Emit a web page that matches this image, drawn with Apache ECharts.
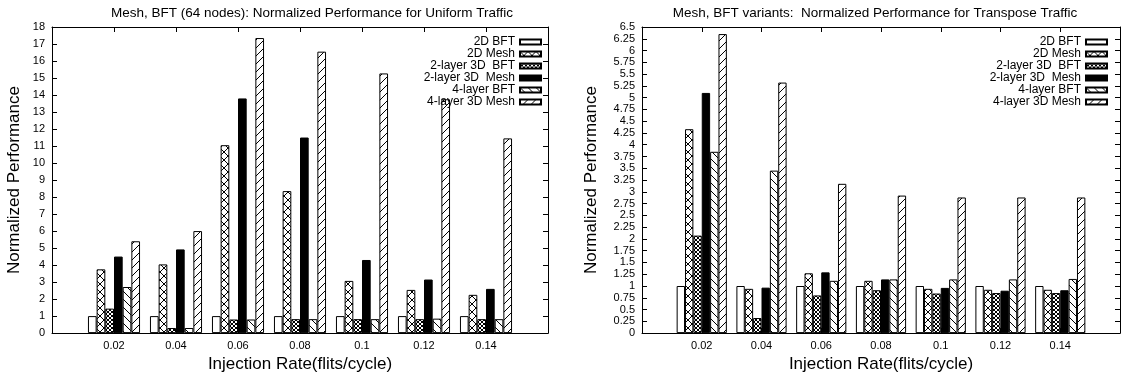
<!DOCTYPE html>
<html>
<head>
<meta charset="utf-8">
<script src="https://cdn.jsdelivr.net/npm/echarts@6/dist/echarts.min.js"></script>
<style>
  html, body { margin: 0; padding: 0; background: #fff; }
  #chart { width: 1123px; height: 378px; }
</style>
</head>
<body>
<div id="chart"></div>
<script>
// x categories (injection rates), placed at 0..6 on a -1..7 axis like gnuplot histograms
var rates = ['0.02', '0.04', '0.06', '0.08', '0.1', '0.12', '0.14'];
var seriesNames = ['2D BFT', '2D Mesh', '2-layer 3D  BFT', '2-layer 3D  Mesh', '4-layer BFT', '4-layer 3D Mesh'];

// uniform traffic (left)
var uni2dBft   = [1, 1, 1, 1, 1, 1, 1];
var uni2dMesh  = [3.75, 4.04, 11.05, 8.35, 3.07, 2.54, 2.25];
var uni2lBft   = [1.44, 0.3, 0.8, 0.82, 0.82, 0.82, 0.82];
var uni2lMesh  = [4.5, 4.92, 13.8, 11.5, 4.3, 3.15, 2.6];
var uni4lBft   = [2.71, 0.3, 0.8, 0.82, 0.82, 0.85, 0.82];
var uni4lMesh  = [5.4, 6.0, 17.35, 16.55, 15.27, 13.75, 11.45];

// transpose traffic (right)
var tr2dBft    = [1, 1, 1, 1, 1, 1, 1];
var tr2dMesh   = [4.33, 0.94, 1.27, 1.11, 0.94, 0.92, 0.92];
var tr2lBft    = [2.07, 0.32, 0.8, 0.91, 0.84, 0.85, 0.85];
var tr2lMesh   = [5.1, 0.965, 1.29, 1.14, 0.96, 0.9, 0.91];
var tr4lBft    = [3.85, 3.45, 1.11, 1.14, 1.14, 1.14, 1.15];
var tr4lMesh   = [6.35, 5.32, 3.17, 2.92, 2.88, 2.88, 2.88];

var FONT = 'Liberation Sans';

// gnuplot-like fill patterns
function pattern(kind) {
  if (kind === 'empty') return '#fff';
  if (kind === 'solid') return '#000';
  var n = kind === 'fine' ? 4 : 8;
  var c = document.createElement('canvas');
  c.width = n; c.height = n;
  var ctx = c.getContext('2d');
  ctx.fillStyle = '#fff';
  ctx.fillRect(0, 0, n, n);
  ctx.strokeStyle = '#000';
  ctx.lineWidth = 1;
  function fwd() { // "/"
    ctx.beginPath();
    ctx.moveTo(-1, n + 1); ctx.lineTo(n + 1, -1);
    ctx.moveTo(-1, 1); ctx.lineTo(1, -1);
    ctx.moveTo(n - 1, n + 1); ctx.lineTo(n + 1, n - 1);
    ctx.stroke();
  }
  function back() { // "\"
    ctx.beginPath();
    ctx.moveTo(-1, -1); ctx.lineTo(n + 1, n + 1);
    ctx.moveTo(n - 1, -1); ctx.lineTo(n + 1, 1);
    ctx.moveTo(-1, n - 1); ctx.lineTo(1, n + 1);
    ctx.stroke();
  }
  if (kind === 'cross' || kind === 'fine') { fwd(); back(); }
  if (kind === 'fwd') fwd();
  if (kind === 'back') back();
  return { image: c, repeat: 'repeat' };
}
var fills = ['empty', 'cross', 'fine', 'solid', 'back', 'fwd'].map(pattern);

function toPoints(arr) {
  return arr.map(function (v, i) { return [i, v]; });
}

function barSeries(name, idx, arr, axisIdx) {
  return {
    name: name,
    type: 'bar',
    xAxisIndex: axisIdx * 2,
    yAxisIndex: axisIdx * 2,
    data: toPoints(arr),
    barGap: 0,
    barCategoryGap: '16%',
    itemStyle: { color: fills[idx], borderColor: '#000', borderWidth: 1 },
    emphasis: { disabled: true },
    animation: false
  };
}

var uniform = [uni2dBft, uni2dMesh, uni2lBft, uni2lMesh, uni4lBft, uni4lMesh];
var transpose = [tr2dBft, tr2dMesh, tr2lBft, tr2lMesh, tr4lBft, tr4lMesh];

var series = [];
seriesNames.forEach(function (n, i) { series.push(barSeries(n, i, uniform[i], 0)); });
seriesNames.forEach(function (n, i) { series.push(barSeries(n, i, transpose[i], 1)); });

var axisText = { color: '#000', fontFamily: FONT, fontSize: 11 };
var blackLine = { show: true, onZero: false, lineStyle: { color: '#000', width: 1 } };
var inTick = { show: true, inside: true, length: 5, lineStyle: { color: '#000' } };
var nameStyle = { color: '#000', fontFamily: FONT, fontSize: 17 };

function xAxes(gridIndex) {
  return [{
    type: 'value', gridIndex: gridIndex, position: 'bottom',
    min: -1, max: 7, interval: 1,
    axisLine: blackLine,
    axisTick: inTick,
    axisLabel: Object.assign({ margin: 7, formatter: function (v) { return rates[v] || ''; } }, axisText),
    splitLine: { show: false },
    name: 'Injection Rate(flits/cycle)', nameLocation: 'middle', nameGap: 20,
    nameTextStyle: nameStyle
  }, {
    type: 'value', gridIndex: gridIndex, position: 'top',
    min: -1, max: 7, interval: 1,
    axisLine: blackLine,
    axisTick: inTick,
    axisLabel: { show: false },
    splitLine: { show: false }
  }];
}

function yAxes(gridIndex, max, step, nameGap) {
  return [{
    type: 'value', gridIndex: gridIndex, position: 'left',
    min: 0, max: max, interval: step,
    axisLine: blackLine,
    axisTick: inTick,
    axisLabel: Object.assign({ margin: 7 }, axisText),
    splitLine: { show: false },
    name: 'Normalized Performance', nameLocation: 'middle', nameGap: nameGap,
    nameTextStyle: nameStyle
  }, {
    type: 'value', gridIndex: gridIndex, position: 'right',
    min: 0, max: max, interval: step,
    axisLine: blackLine,
    axisTick: inTick,
    axisLabel: { show: false },
    splitLine: { show: false }
  }];
}

function legend(right) {
  return {
    data: seriesNames,
    orient: 'vertical',
    right: right,
    top: 31,
    align: 'right',
    itemWidth: 21,
    itemHeight: 5,
    itemGap: 0,
    selectedMode: false,
    icon: 'rect',
    textStyle: { color: '#000', fontFamily: FONT, fontSize: 12, lineHeight: 12 }
  };
}

var chart = echarts.init(document.getElementById('chart'), null, { renderer: 'canvas' });
chart.setOption({
  backgroundColor: '#fff',
  animation: false,
  title: [{
    text: 'Mesh, BFT (64 nodes): Normalized Performance for Uniform Traffic',
    left: 307, textAlign: 'center', top: 1,
    textStyle: { color: '#000', fontFamily: FONT, fontSize: 13.5, fontWeight: 'normal' }
  }, {
    text: 'Mesh, BFT variants:  Normalized Performance for Transpose Traffic',
    left: 870, textAlign: 'center', top: 1,
    textStyle: { color: '#000', fontFamily: FONT, fontSize: 13.5, fontWeight: 'normal' }
  }],
  legend: [legend(576), legend(10)],
  grid: [
    { left: 52, top: 27, width: 496, height: 312, show: false },
    { left: 642, top: 27, width: 488, height: 312, show: false }
  ],
  xAxis: xAxes(0).concat(xAxes(1)),
  yAxis: yAxes(0, 18, 1, 29).concat(yAxes(1, 6.5, 0.25, 42)),
  series: series
});
</script>
</body>
</html>
